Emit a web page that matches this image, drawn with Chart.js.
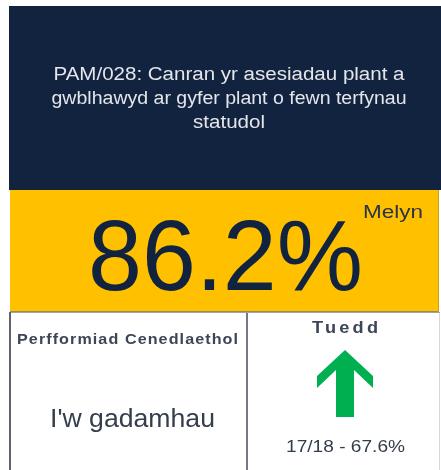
<!DOCTYPE html>
<html><head><meta charset="utf-8">
<script src="https://cdn.jsdelivr.net/npm/chart.js@4"></script>
<style>html,body{margin:0;padding:0;background:#fff}canvas{display:block}</style>
</head><body>
<canvas id="c" width="441" height="470"></canvas>
<script>
// ---- data ----
const titleLines = ["PAM/028: Canran yr asesiadau plant a", "gwblhawyd ar gyfer plant o fewn terfynau", "statudol"];
const currentValue = [86.2];
const statusLabel = ["Melyn"];
const nationalLabel = ["Perfformiad Cenedlaethol"];
const nationalValue = ["I'w gadamhau"];
const trendLabel = ["Tuedd"];
const previousPeriod = ["17/18"];
const previousValue = [67.6];
const trendDirection = ["up"];

const FONT = "'Liberation Sans', Arial, Helvetica, sans-serif";

function fitText(ctx, text, cx, baseline, size, weight, color, targetW, spacing, align) {
  ctx.save();
  ctx.font = `${weight} ${size}px ${FONT}`;
  ctx.letterSpacing = (spacing || 0) + 'px';
  ctx.fillStyle = color;
  ctx.textBaseline = 'alphabetic';
  const w = ctx.measureText(text).width - (spacing || 0);
  const s = targetW / w;
  if (align === 'left') {
    ctx.translate(cx, baseline);
    ctx.scale(s, 1);
    ctx.textAlign = 'left';
    ctx.fillText(text, 0, 0);
  } else {
    ctx.translate(cx - targetW / 2, baseline);
    ctx.scale(s, 1);
    ctx.textAlign = 'left';
    ctx.fillText(text, 0, 0);
  }
  ctx.restore();
}

const cardPlugin = {
  id: 'kpiCard',
  afterDraw(chart) {
    const ctx = chart.ctx;
    ctx.save();
    // header
    ctx.fillStyle = '#12233f';
    ctx.fillRect(9, 6, 432, 184);
    // status band
    ctx.fillStyle = '#ffc000';
    ctx.fillRect(10, 190, 429, 122);
    ctx.fillStyle = '#9a8a55';
    ctx.fillRect(10, 311, 429, 1);
    ctx.fillStyle = '#a0a4aa';
    ctx.fillRect(10, 312, 430, 1);
    ctx.fillStyle = '#c9a21a';
    ctx.fillRect(438, 190, 1, 122);
    // bottom boxes
    ctx.fillStyle = '#5d6470';
    ctx.fillRect(9, 312, 2, 158);
    ctx.fillStyle = '#737a86';
    ctx.fillRect(246, 313, 2, 157);
    ctx.fillStyle = '#d6d8dc';
    ctx.fillRect(439, 313, 1, 157);

    // title
    const tw = [351, 355, 72];
    const tb = [80, 104, 128];
    titleLines.forEach((t, i) => fitText(ctx, t, 229, tb[i], 18, 'normal', '#e4e6ea', tw[i], 0));

    // value
    fitText(ctx, currentValue[0].toFixed(1) + '%', 225.5, 290, 100, 'normal', '#12233f', 275, 0);
    fitText(ctx, statusLabel[0], 363, 218, 18, 'normal', '#2b3447', 60, 0, 'left');

    // national
    fitText(ctx, nationalLabel[0], 127.5, 344, 15, 'bold', '#3d4656', 221, 1);
    fitText(ctx, nationalValue[0], 132.5, 427, 25, 'normal', '#353e4c', 165, 0);

    // trend
    fitText(ctx, trendLabel[0], 345, 333, 17, 'bold', '#3d4656', 66, 3);
    fitText(ctx, previousPeriod[0] + ' - ' + previousValue[0] + '%', 345.5, 452, 17, 'normal', '#333c4a', 119, 0);

    // arrow glyph
    const dir = trendDirection[0] === 'up' ? 1 : -1;
    const ax = 345, ay = 383.5;
    const pts = [[0,-33.5],[28,-7.5],[28,4.5],[9,-13.5],[9,33.5],[-9,33.5],[-9,-13.5],[-28,4.5],[-28,-7.5]];
    ctx.fillStyle = '#00b050';
    ctx.beginPath();
    pts.forEach((p, i) => {
      const x = ax + p[0], y = ay + p[1] * dir;
      if (i === 0) ctx.moveTo(x, y); else ctx.lineTo(x, y);
    });
    ctx.closePath();
    ctx.fill();
    ctx.restore();
  }
};

new Chart(document.getElementById('c'), {
  type: 'bar',
  data: {
    labels: ['PAM/028'],
    datasets: [{ data: currentValue, backgroundColor: 'rgba(0,0,0,0)', borderWidth: 0 }]
  },
  options: {
    responsive: false,
    animation: false,
    events: [],
    plugins: { legend: { display: false }, tooltip: { enabled: false } },
    scales: { x: { display: false }, y: { display: false, min: 0, max: 100 } }
  },
  plugins: [cardPlugin]
});
</script>
</body></html>
